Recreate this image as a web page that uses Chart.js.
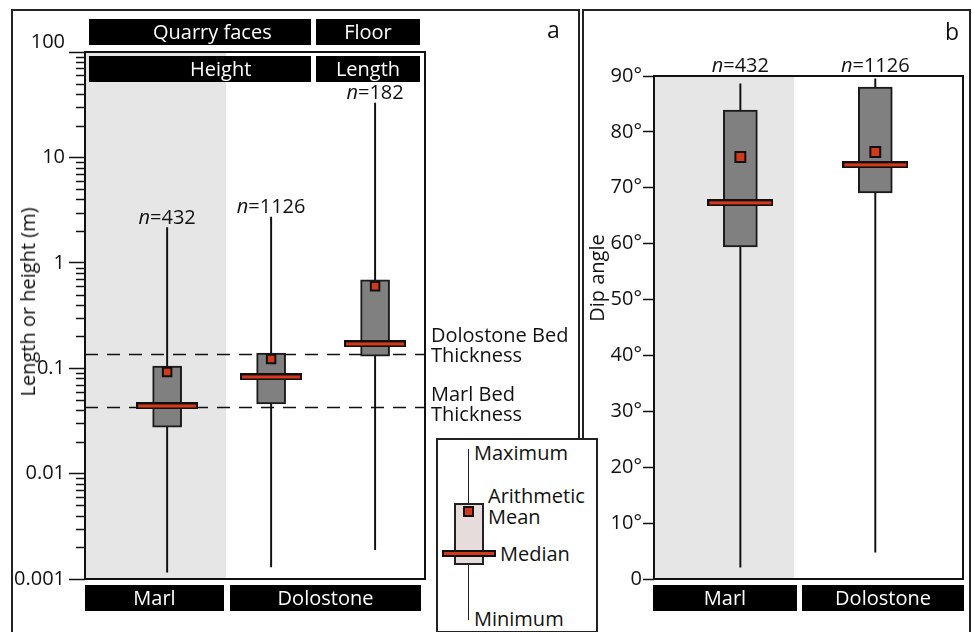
<!DOCTYPE html>
<html>
<head>
<meta charset="utf-8">
<script src="https://cdn.jsdelivr.net/npm/chart.js@4.4.0/dist/chart.umd.min.js"></script>
<style>
  html, body { margin: 0; padding: 0; background: #fff; }
  #page { position: relative; width: 972px; height: 632px; overflow: hidden; font-family: 'Open Sans', sans-serif; color: #111; }
  canvas { position: absolute; top: 0; }
  .rule { position: absolute; background: #222; }
  .tag { position: absolute; background: #000; color: #fff; font-size: 20px; line-height: 26px; height: 26px; white-space: nowrap; }
  .txt { position: absolute; font-size: 20px; line-height: 20px; white-space: nowrap; }
</style>
</head>
<body>
<div id="page">
  <canvas id="chartA" width="580" height="632" style="left:0"></canvas>
  <canvas id="chartB" width="392" height="632" style="left:580px"></canvas>

  <!-- panel frames -->
  <div class="rule" style="left:11px;top:9px;width:569px;height:2px"></div>
  <div class="rule" style="left:11px;top:9px;width:2px;height:623px"></div>
  <div class="rule" style="left:578px;top:9px;width:2px;height:430px"></div>
  <div class="rule" style="left:582px;top:9px;width:389px;height:2px"></div>
  <div class="rule" style="left:582px;top:9px;width:2px;height:430px"></div>
  <div class="rule" style="left:969px;top:9px;width:2px;height:623px"></div>

  <!-- panel a headers -->
  <div class="tag" style="left:89px;top:19px;width:222px"><span style="position:absolute;left:64px">Quarry faces</span></div>
  <div class="tag" style="left:316px;top:19px;width:104px;text-align:center">Floor</div>
  <div class="tag" style="left:89px;top:56px;width:222px"><span style="position:absolute;left:101px">Height</span></div>
  <div class="tag" style="left:316px;top:56px;width:104px;text-align:center">Length</div>
  <div class="tag" style="left:85px;top:585px;width:139px;text-align:center">Marl</div>
  <div class="tag" style="left:230px;top:585px;width:191px;text-align:center">Dolostone</div>
  <div class="txt" style="left:547px;top:18px;font-size:23px;line-height:23px">a</div>
  <div class="txt" style="left:28px;top:302px;transform:translate(-50%,-50%) rotate(-90deg)">Length or height (m)</div>

  <!-- panel b headers -->
  <div class="tag" style="left:653px;top:585px;width:144px;text-align:center">Marl</div>
  <div class="tag" style="left:802px;top:585px;width:162px;text-align:center">Dolostone</div>
  <div class="txt" style="left:945px;top:20px;font-size:23px;line-height:23px">b</div>
  <div class="txt" style="left:597px;top:278px;transform:translate(-50%,-50%) rotate(-90deg)">Dip angle</div>

  <!-- key -->
  <div style="position:absolute;left:436px;top:438px;width:158px;height:191px;border:2px solid #222;background:#fff"></div>
  <div class="rule" style="left:468px;top:449px;width:1.3px;height:55px"></div>
  <div class="rule" style="left:468px;top:563px;width:1.3px;height:57px"></div>
  <div style="position:absolute;left:454px;top:503px;width:26px;height:58px;background:#e6dcdc;border:2px solid #222"></div>
  <div style="position:absolute;left:463px;top:506px;width:7px;height:7px;background:#d5391b;border:2px solid #111"></div>
  <div style="position:absolute;left:442px;top:550px;width:50px;height:3px;background:#d5391b;border:2px solid #111"></div>
  <div class="txt" style="left:474px;top:443px">Maximum</div>
  <div class="txt" style="left:488px;top:486px">Arithmetic</div>
  <div class="txt" style="left:488px;top:507px">Mean</div>
  <div class="txt" style="left:500px;top:544px">Median</div>
  <div class="txt" style="left:474px;top:609px">Minimum</div>
</div>

<script>
// panel a: face heights and floor lengths (m), log scale
const groupsA  = ['Marl', 'Dolostone', 'Floor'];
const countsA  = [432, 1126, 182];
const minA     = [0.00116, 0.0013, 0.0019];
const lowA     = [0.0276, 0.0457, 0.13];
const medianA  = [0.0438, 0.0826, 0.17];
const meanA    = [0.092, 0.122, 0.60];
const highA    = [0.105, 0.139, 0.69];
const maxA     = [2.16, 2.72, 32.8];
const bedValues = [0.135, 0.043];
const bedLabels = [['Dolostone Bed', 'Thickness'], ['Marl Bed', 'Thickness']];
const majorTicksA  = [0.001, 0.01, 0.1, 1, 10, 100];
const majorLabelsA = ['0.001', '0.01', '0.1', '1', '10', '100'];

// panel b: dip angles (degrees)
const groupsB  = ['Marl', 'Dolostone'];
const countsB  = [432, 1126];
const minB     = [2.1, 4.8];
const lowB     = [59.4, 69.1];
const medianB  = [67.3, 74.1];
const meanB    = [75.5, 76.4];
const highB    = [83.9, 88.0];
const maxB     = [88.6, 89.5];
const ticksB      = [0, 10, 20, 30, 40, 50, 60, 70, 80, 90];
const tickLabelsB = ['0', '10°', '20°', '30°', '40°', '50°', '60°', '70°', '80°', '90°'];

const RED = '#d5391b';
const INK = '#111';
const FONT = "'Open Sans', sans-serif";

// minor ticks 2..9 within each decade
const allTicksA = [];
majorTicksA.forEach(function (m, i) {
  allTicksA.push(m);
  if (i < majorTicksA.length - 1) {
    for (let k = 2; k <= 9; k++) allTicksA.push(m * k);
  }
});

function medianMark(w, h) {
  const c = document.createElement('canvas');
  c.width = w; c.height = h;
  const g = c.getContext('2d');
  g.fillStyle = INK; g.fillRect(0, 0, w, h);
  g.fillStyle = RED; g.fillRect(2, 2, w - 4, h - 4);
  return c;
}

function boxDatasets(mins, lows, meds, means, highs, maxs, boxWidth, medImg, meanRadius) {
  const idx = mins.map(function (_, i) { return i; });
  return [
    { type: 'bar', data: idx.map(i => ({ x: i, y: [mins[i], maxs[i]] })),
      barThickness: 1.3, backgroundColor: INK, grouped: false, order: 4 },
    { type: 'bar', data: idx.map(i => ({ x: i, y: [lows[i], highs[i]] })),
      barThickness: boxWidth, backgroundColor: '#808080', borderColor: '#1a1a1a',
      borderWidth: 2, borderSkipped: false, grouped: false, order: 3 },
    { type: 'line', data: idx.map(i => ({ x: i, y: meds[i] })), showLine: false,
      pointStyle: medImg, pointRadius: 4, order: 2 },
    { type: 'line', data: idx.map(i => ({ x: i, y: means[i] })), showLine: false,
      pointStyle: 'rect', pointRadius: meanRadius, pointBackgroundColor: RED,
      pointBorderColor: INK, pointBorderWidth: 2, order: 1 }
  ];
}

function nLabel(ctx, n, cx, baseline) {
  ctx.textBaseline = 'alphabetic';
  ctx.font = 'italic 20px ' + FONT;
  const w1 = ctx.measureText('n').width;
  ctx.font = '20px ' + FONT;
  const rest = '=' + n;
  const w2 = ctx.measureText(rest).width;
  const x0 = cx - (w1 + w2) / 2;
  ctx.textAlign = 'left';
  ctx.font = 'italic 20px ' + FONT;
  ctx.fillText('n', x0, baseline);
  ctx.font = '20px ' + FONT;
  ctx.fillText(rest, x0 + w1, baseline);
}

function decorPlugin(opts) {
  return {
    id: 'decor',
    beforeDatasetsDraw(chart) {
      const ctx = chart.ctx, a = chart.chartArea, x = chart.scales.x, y = chart.scales.y;
      ctx.save();
      ctx.fillStyle = '#e6e6e6';
      ctx.fillRect(a.left, a.top, x.getPixelForValue(opts.bandEnd) - a.left, a.bottom - a.top);
      if (opts.beds) {
        ctx.strokeStyle = INK;
        ctx.lineWidth = 1.6;
        ctx.setLineDash([13, 9]);
        opts.beds.forEach(function (v) {
          const py = Math.round(y.getPixelForValue(v)) + 0.5;
          ctx.beginPath(); ctx.moveTo(a.left, py); ctx.lineTo(a.right, py); ctx.stroke();
        });
      }
      ctx.restore();
    },
    afterDatasetsDraw(chart) {
      const ctx = chart.ctx, a = chart.chartArea, x = chart.scales.x, y = chart.scales.y;
      ctx.save();
      ctx.fillStyle = INK;
      ctx.strokeStyle = INK;
      // minor ticks
      if (opts.minor) {
        ctx.lineWidth = 1.5;
        y.ticks.forEach(function (t) {
          if (t.major) return;
          const py = Math.round(y.getPixelForValue(t.value)) + 0.5;
          ctx.beginPath(); ctx.moveTo(a.left - 9, py); ctx.lineTo(a.left, py); ctx.stroke();
        });
      }
      // raised top label
      if (opts.topLabel) {
        ctx.font = '20px ' + FONT;
        ctx.textAlign = 'right';
        ctx.textBaseline = 'middle';
        ctx.fillText(opts.topLabel, a.left - 20, y.getPixelForValue(y.max) - 10);
      }
      // sample counts
      opts.counts.forEach(function (n, i) {
        const cx = x.getPixelForValue(i);
        const base = opts.countsOnTop ? a.top - 4 : y.getPixelForValue(opts.maxs[i]) - 4;
        nLabel(ctx, n, cx, base);
      });
      // bed thickness notes
      if (opts.beds) {
        ctx.font = '20px ' + FONT;
        ctx.textAlign = 'left';
        ctx.textBaseline = 'middle';
        opts.beds.forEach(function (v, i) {
          const py = y.getPixelForValue(v) + opts.bedShift[i];
          ctx.fillText(opts.bedText[i][0], a.right + 6, py - 10);
          ctx.fillText(opts.bedText[i][1], a.right + 6, py + 10);
        });
      }
      // plot frame
      ctx.lineWidth = 2;
      ctx.strokeRect(a.left, a.top, a.right - a.left, a.bottom - a.top);
      ctx.restore();
    }
  };
}

const chartA = new Chart(document.getElementById('chartA'), {
  type: 'bar',
  data: { datasets: boxDatasets(minA, lowA, medianA, meanA, highA, maxA, 29, medianMark(62, 7), 6) },
  options: {
    responsive: false,
    animation: false,
    events: [],
    layout: { padding: { left: 12, top: 52, right: 155, bottom: 53 } },
    plugins: { legend: { display: false }, tooltip: { enabled: false } },
    scales: {
      x: { type: 'linear', min: -0.79, max: 2.48, offset: false, display: false },
      y: {
        type: 'logarithmic', min: 0.001, max: 100,
        afterBuildTicks: function (s) {
          s.ticks = allTicksA.map(v => ({ value: v, major: majorTicksA.indexOf(v) >= 0 }));
        },
        afterFit: function (s) { s.width = 73; },
        ticks: {
          autoSkip: false, padding: 4, color: INK, font: { family: FONT, size: 20 },
          callback: function (v) {
            const k = majorTicksA.indexOf(v);
            return (k >= 0 && v !== 100) ? majorLabelsA[k] : '';
          }
        },
        grid: {
          drawOnChartArea: false, tickLength: 16, tickWidth: 1.5,
          tickColor: c => (c.tick && c.tick.major) ? INK : 'rgba(0,0,0,0)'
        },
        border: { display: false }
      }
    }
  },
  plugins: [decorPlugin({
    bandEnd: 0.566, beds: bedValues, bedText: bedLabels, bedShift: [-8, -2],
    counts: countsA, maxs: maxA, minor: true,
    topLabel: majorLabelsA[majorLabelsA.length - 1]
  })]
});

const chartB = new Chart(document.getElementById('chartB'), {
  type: 'bar',
  data: { datasets: boxDatasets(minB, lowB, medianB, meanB, highB, maxB, 34, medianMark(66, 7), 7) },
  options: {
    responsive: false,
    animation: false,
    events: [],
    layout: { padding: { left: 0, top: 76, right: 7, bottom: 53 } },
    plugins: { legend: { display: false }, tooltip: { enabled: false } },
    scales: {
      x: { type: 'linear', min: -0.64, max: 1.65, offset: false, display: false },
      y: {
        min: 0, max: 90,
        afterBuildTicks: function (s) { s.ticks = ticksB.map(v => ({ value: v })); },
        afterFit: function (s) { s.width = 74; },
        ticks: {
          autoSkip: false, padding: 1, color: INK, font: { family: FONT, size: 20 },
          callback: function (v) { return tickLabelsB[ticksB.indexOf(v)]; }
        },
        grid: { drawOnChartArea: false, tickLength: 11, tickWidth: 1.5, tickColor: INK },
        border: { display: false }
      }
    }
  },
  plugins: [decorPlugin({ bandEnd: 0.398, counts: countsB, countsOnTop: true })]
});
</script>
</body>
</html>
